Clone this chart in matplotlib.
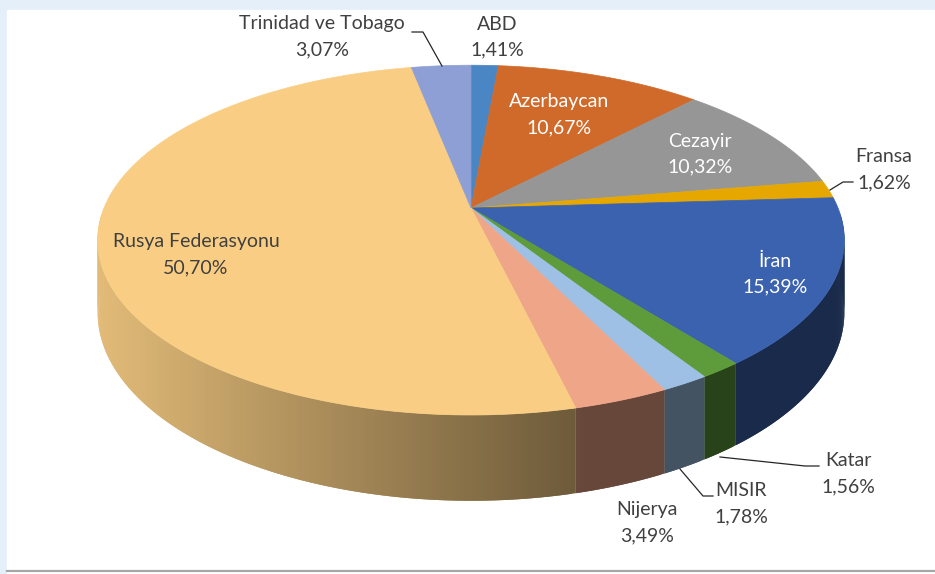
import numpy as np
import matplotlib
matplotlib.use("Agg")
import matplotlib.pyplot as plt
from matplotlib.patches import Polygon, Rectangle

# ---------------- data ----------------
countries = ["ABD", "Azerbaycan", "Cezayir", "Fransa", "İran", "Katar",
             "MISIR", "Nijerya", "Rusya Federasyonu", "Trinidad ve Tobago"]
shares = [1.41, 10.67, 10.32, 1.62, 15.39, 1.56, 1.78, 3.49, 50.70, 3.07]
colors = ["#4A86C3", "#D06A2A", "#969696", "#E6A800", "#3B62AE", "#5E9B3A",
          "#9DC0E4", "#EFA688", "#F9CE84", "#8E9FD5"]

# ---------------- layout / style ----------------
W, H_FIG = 935, 574
CX, CY = 471, 208          # apex of the pie on screen
A, B = 367, 169            # projected radii
K = 0.1836                 # perspective factor
DEPTH = 70                 # thickness of the pie
TXT = "#404040"
FONT = ["Lato", "DejaVu Sans"]
FS = 14

label_pos = {
    "ABD": (497, 24, TXT),
    "Azerbaycan": (559, 102, "white"),
    "Cezayir": (700, 141, "white"),
    "Fransa": (884, 157, TXT),
    "İran": (775, 261, "white"),
    "Katar": (848, 461, TXT),
    "MISIR": (741, 491, TXT),
    "Nijerya": (647, 510, TXT),
    "Rusya Federasyonu": (196, 242, TXT),
    "Trinidad ve Tobago": (322, 24, TXT),
}
leaders = {
    "Trinidad ve Tobago": [(412, 32), (423, 32), (442, 66)],
    "Fransa": [(853, 182), (843, 182), (830, 190)],
    "Katar": [(819, 466), (805, 466), (720, 457)],
    "MISIR": [(713, 496), (703, 496), (680, 469)],
}


def proj(theta_deg, z=0.0):
    t = np.radians(theta_deg)
    X = np.sin(t)
    Y = np.cos(t)
    s = 1.0 / (1.0 + K * Y)
    x = CX + A * X * s
    y = CY - B * Y * s + DEPTH * z * s
    return x, y


def shade(color, f):
    rgb = np.array(matplotlib.colors.to_rgb(color))
    return tuple(np.clip(rgb * f, 0, 1))


def light(xm):
    return min(0.43 + 0.00098 * max(0.0, 585 - xm), 0.91)


fig = plt.figure(figsize=(W / 100, H_FIG / 100), dpi=100)
ax = fig.add_axes([0, 0, 1, 1])
ax.set_xlim(0, W)
ax.set_ylim(H_FIG, 0)
ax.axis("off")

# background
ax.add_patch(Rectangle((0, 0), W, H_FIG, color="#E4EFF9", zorder=0))
ax.add_patch(Rectangle((7, 10), W - 7, H_FIG - 10, color="white", zorder=0.5))
ax.plot([7, W], [571, 571], color="#A6A6A6", lw=1.6, zorder=1)

total = sum(shares)
edges = np.concatenate([[0], np.cumsum(shares) / total * 360.0])

# side walls (front half) made of overlapping shaded strips
strips = []
for i, c in enumerate(colors):
    a, b = edges[i], edges[i + 1]
    lo, hi = max(a, 92.0), min(b, 268.0)
    if hi <= lo:
        continue
    n = max(2, int((hi - lo) * 2))
    ts = np.linspace(lo, hi, n + 1)
    xt, yt = proj(ts)
    xb, yb = proj(ts, 1)
    key = np.cos(np.radians(0.5 * (lo + hi)))
    for j in range(n):
        k2 = min(j + 2, n)
        seg = slice(j, k2 + 1)
        pts = list(zip(xt[seg], yt[seg])) + list(zip(xb[seg][::-1], yb[seg][::-1]))
        col = shade(c, light(0.5 * (xt[j] + xt[j + 1])))
        strips.append((key, np.cos(np.radians(ts[j])), pts, col))

strips.sort(key=lambda s: (-s[0], -s[1]))
for _, _, pts, col in strips:
    ax.add_patch(Polygon(pts, closed=True, facecolor=col, edgecolor="none",
                         antialiased=True, zorder=2.5))

# top face
for i, c in enumerate(colors):
    a, b = edges[i], edges[i + 1]
    ts = np.linspace(a, b, max(3, int((b - a) * 2)))
    xs, ys = proj(ts)
    pts = [(CX, CY)] + list(zip(xs, ys))
    ax.add_patch(Polygon(pts, closed=True, facecolor=c, edgecolor=c, lw=0.5, zorder=3))

# labels
for name, share in zip(countries, shares):
    x, y, col = label_pos[name]
    pct = f"{share:.2f}%".replace(".", ",")
    ax.text(x, y, name, ha="center", va="center", fontsize=FS, color=col,
            family=FONT, zorder=5)
    ax.text(x, y + 26, pct, ha="center", va="center", fontsize=FS, color=col,
            family=FONT, zorder=5)

for name, pts in leaders.items():
    xs, ys = zip(*pts)
    ax.plot(xs, ys, color="#262626", lw=0.9, zorder=4)

fig.savefig("out.png", dpi=100)
